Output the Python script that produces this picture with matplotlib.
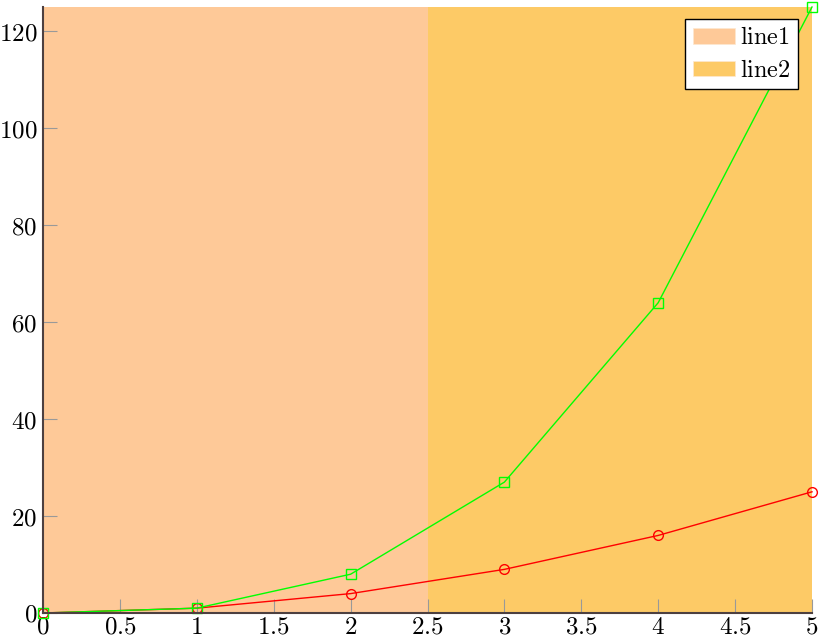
import matplotlib.pyplot as plt
import matplotlib.patches as mpatches
from matplotlib.ticker import FuncFormatter

plt.rcParams['mathtext.fontset'] = 'cm'
plt.rcParams['font.family'] = ['DejaVu Serif']

x = [0, 1, 2, 3, 4, 5]
y_sq = [0, 1, 4, 9, 16, 25]
y_cu = [0, 1, 8, 27, 64, 125]
spans = [(0, 2.5), (2.5, 5)]
span_labels = ['line1', 'line2']
span_colors = ['#fec998', '#fdca66']
xticks = [0, 0.5, 1, 1.5, 2, 2.5, 3, 3.5, 4, 4.5, 5]
yticks = [0, 20, 40, 60, 80, 100, 120]

fig = plt.figure(figsize=(8.19, 6.38), dpi=100)
ax = fig.add_axes([43 / 819, 25 / 638, 769 / 819, 606 / 638])

for (a, b), c in zip(spans, span_colors):
    ax.axvspan(a, b, color=c, lw=0, zorder=0)

ax.plot(x, y_sq, color='red', lw=1, marker='o', ms=7, mfc='none', mew=1,
        clip_on=False, zorder=3)
ax.plot(x, y_cu, color='#00ff00', lw=1, marker='s', ms=7, mfc='none', mew=1,
        clip_on=False, zorder=3)

ax.set_xlim(0, 5)
ax.set_ylim(0, 125)
ax.set_xticks(xticks)
ax.set_yticks(yticks)

fmt = FuncFormatter(lambda v, p: '$%g$' % v)
ax.xaxis.set_major_formatter(fmt)
ax.yaxis.set_major_formatter(fmt)
ax.tick_params(direction='in', length=10, width=0.8, color='#999999',
               labelsize=18, pad=2)
ax.tick_params(axis='y', pad=4)

for s in ['top', 'right']:
    ax.spines[s].set_visible(False)
for s in ['left', 'bottom']:
    ax.spines[s].set_color('#4d4040')
    ax.spines[s].set_linewidth(1.5)
    ax.spines[s].set_zorder(4)

handles = [mpatches.Patch(facecolor=c, edgecolor='#fde8d0', lw=0.5, label='$\\mathrm{%s}$' % l)
           for c, l in zip(span_colors, span_labels)]
leg = ax.legend(handles=handles, loc='upper right', bbox_to_anchor=(0.982, 0.980),
                fancybox=False, framealpha=1, edgecolor='black', fontsize=17.5,
                handlelength=1.75, handleheight=0.6, borderpad=0.3,
                labelspacing=0.4, handletextpad=0.2, borderaxespad=0)
leg.get_frame().set_linewidth(1)
leg.set_zorder(5)

fig.savefig('out.png', dpi=100, facecolor='white')
